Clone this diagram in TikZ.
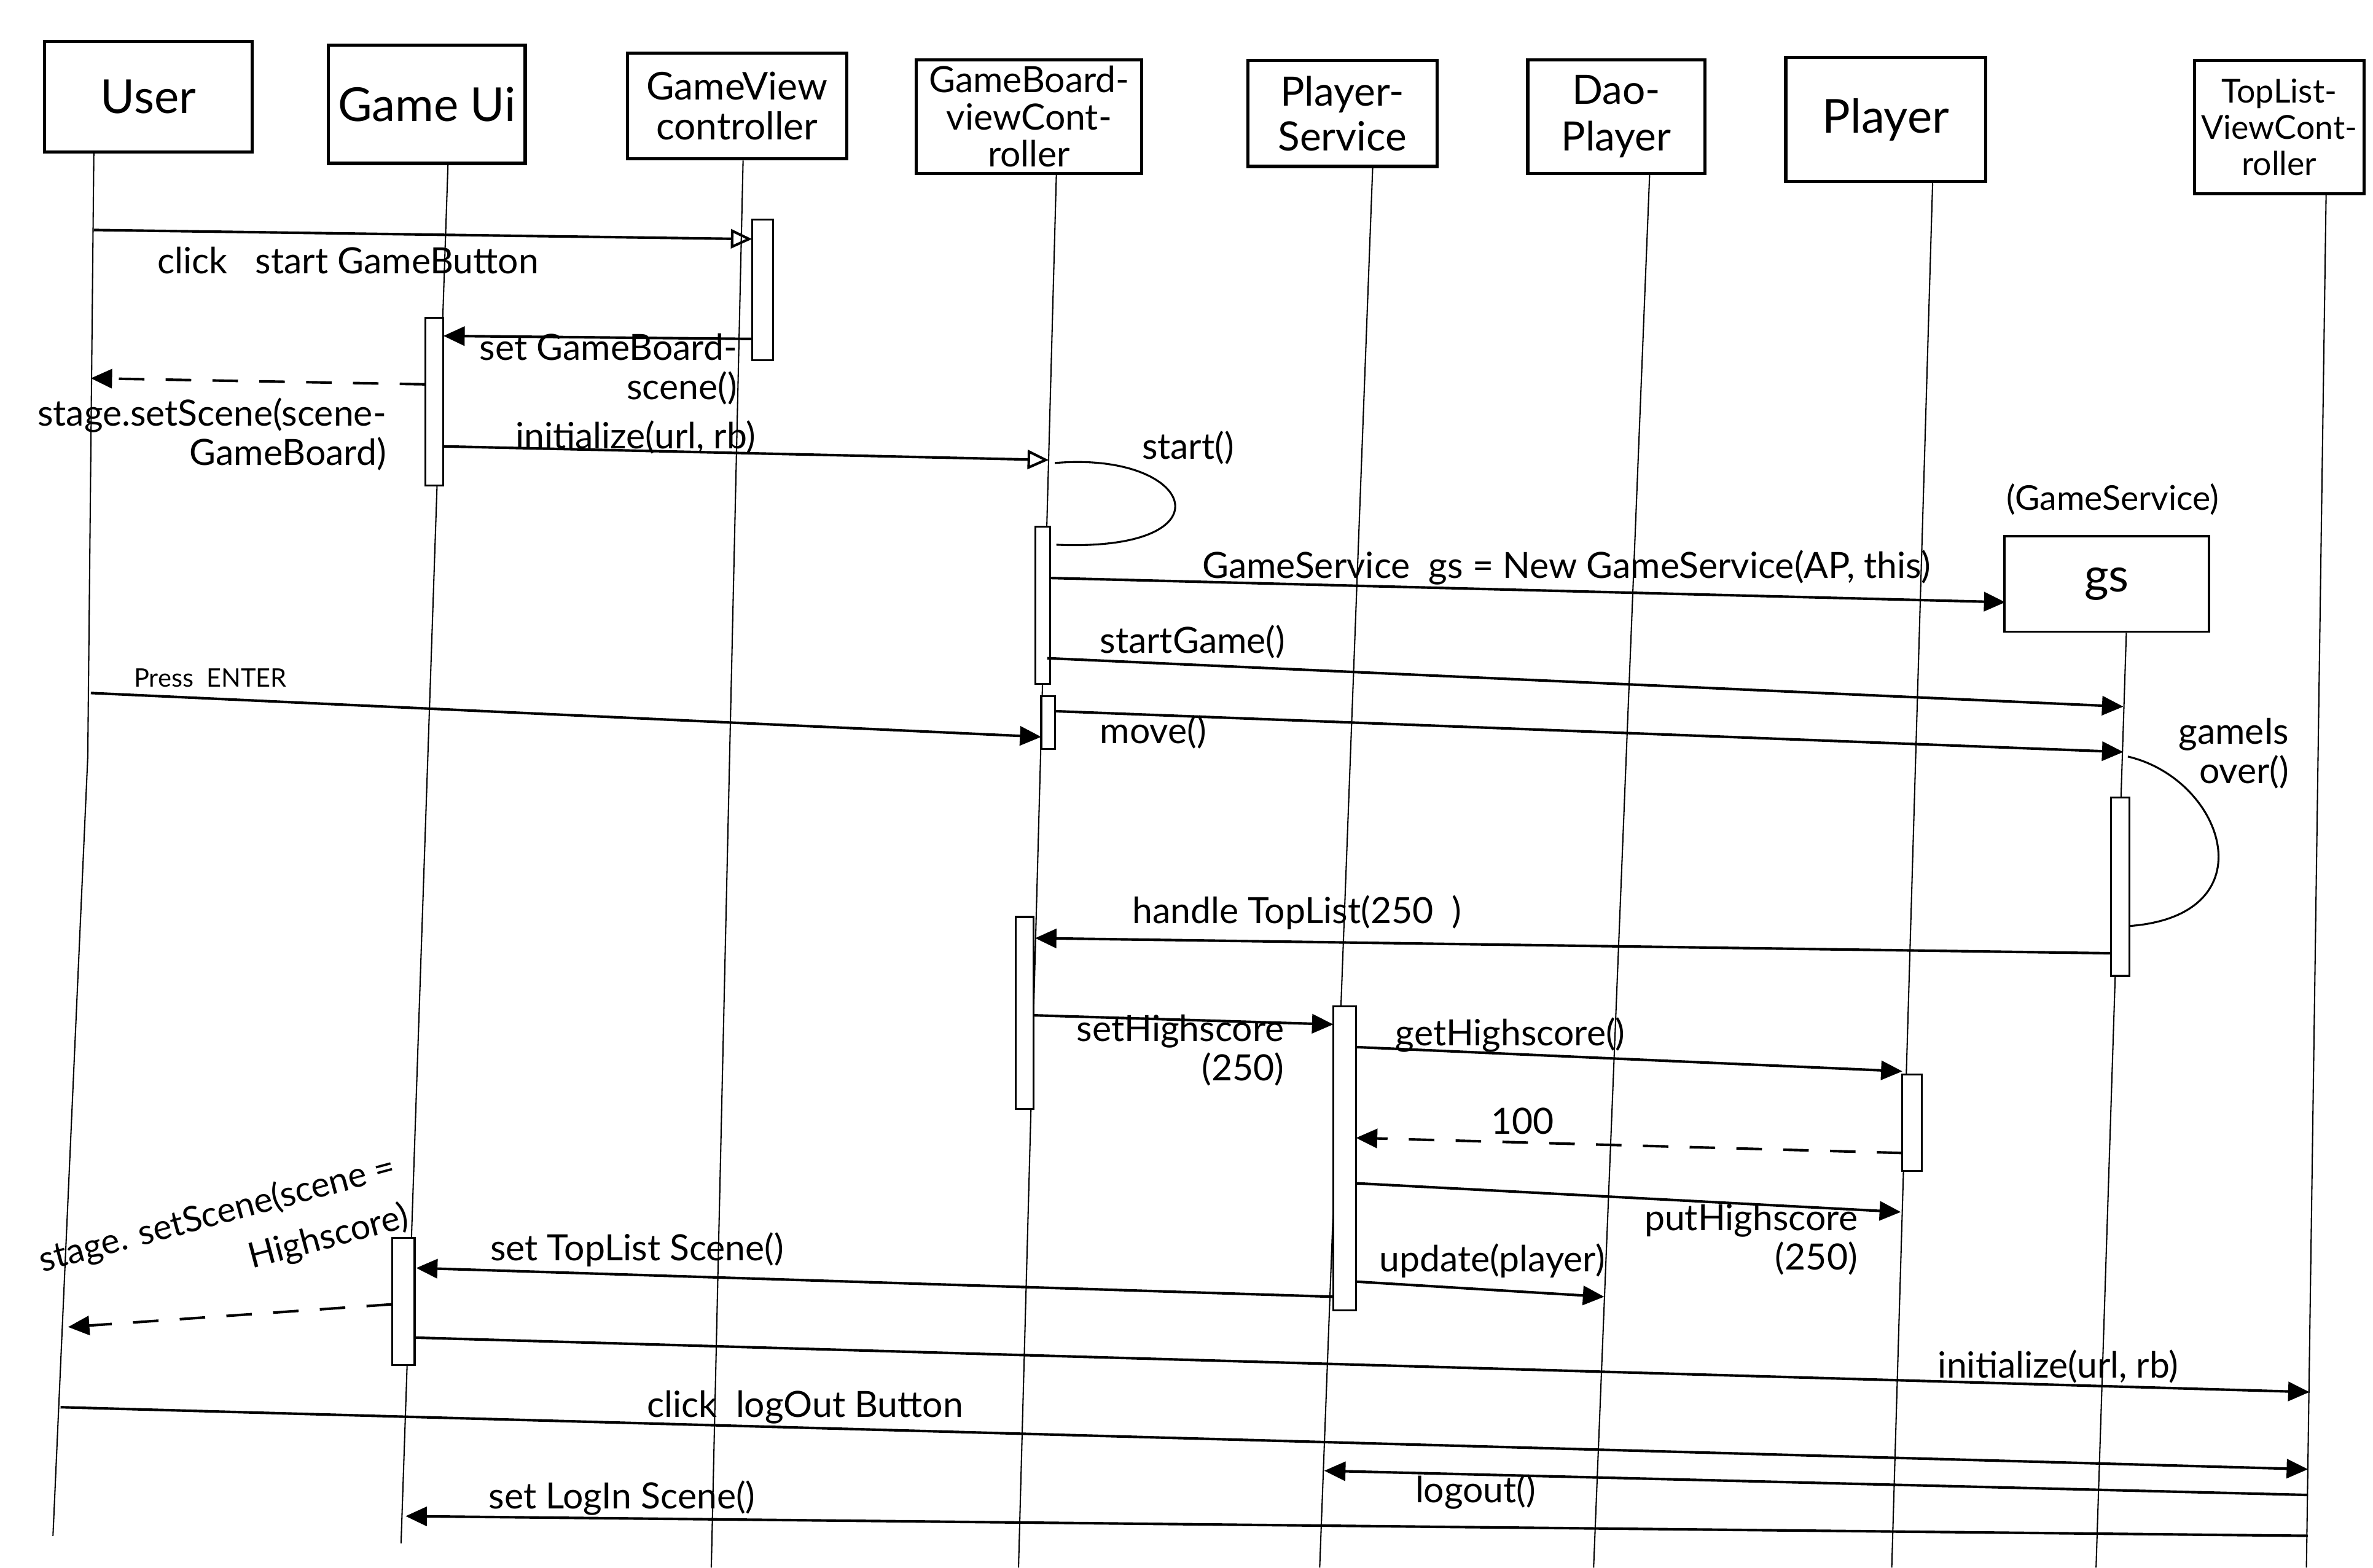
\documentclass[tikz,border=0pt]{standalone}
\usepackage{fontspec}
\setmainfont{Lato}
\usetikzlibrary{arrows.meta,calc}
\begin{document}
\begin{tikzpicture}[x=0.025cm,y=-0.025cm,
  actor/.style={draw,line width=1.5pt,align=center,inner sep=2pt},
  life/.style={line width=0.6pt},
  act/.style={draw,fill=white,line width=0.9pt},
  msg/.style={line width=1.2pt,-{Triangle[length=10pt,width=9pt]}},
  omsg/.style={line width=1.2pt,-{Triangle[open,length=10pt,width=9pt]}},
  rmsg/.style={msg,dash pattern=on 12pt off 10pt},
  selfcall/.style={line width=0.9pt},
  lbl/.style={font=\fontsize{17}{18.5}\selectfont,inner sep=1pt},
  big/.style={font=\fontsize{22}{24}\selectfont},
  mid/.style={font=\fontsize{18}{19}\selectfont}
]
\fill[white] (0,0) rectangle (1568,1036);
\useasboundingbox (0,0) rectangle (1568,1036);

% ---------- participants ----------
\node[actor,big,minimum width=3.425cm,minimum height=1.825cm] (user) at (98,64) {User};
\node[actor,big,minimum width=3.25cm,minimum height=1.95cm] (gameui) at (282,69) {Game Ui};
\node[actor,mid,minimum width=3.625cm,minimum height=1.75cm] (gvc) at (487,70) {GameView\\controller};
\node[actor,font=\fontsize{17}{17.5}\selectfont,minimum width=3.725cm,minimum height=1.875cm] (gbvc) at (680,77) {GameBoard-\\viewCont-\\roller};
\node[actor,font=\fontsize{19}{21}\selectfont,minimum width=3.125cm,minimum height=1.75cm] (ps) at (887,75) {Player-\\Service};
\node[actor,font=\fontsize{19}{22}\selectfont,minimum width=2.925cm,minimum height=1.875cm] (dao) at (1068,77) {Dao-\\Player};
\node[actor,big,minimum width=3.3cm,minimum height=2.05cm] (player) at (1246,79) {Player};
\node[actor,font=\fontsize{15.5}{17}\selectfont,minimum width=2.8cm,minimum height=2.2cm] (toplist) at (1506,84) {TopList-\\ViewCont-\\roller};
\node[actor,line width=1.1pt,big,minimum width=3.375cm,minimum height=1.575cm] (gs) at (1392,386) {gs};
\node[lbl,font=\fontsize{16}{16}\selectfont] (gstype) at (1396,330) {(GameService)};

% ---------- lifelines ----------
\draw[life] ($(user.south)+(-36,0)$) -- (58,500) -- (35,1015);
\draw[life] ($(gameui.south)+(14,0)$) -- (265,1020);
\draw[life] ($(gvc.south)+(4,0)$) -- (470,1036);
\draw[life] ($(gbvc.south)+(18,0)$) -- (673,1036);
\draw[life] ($(ps.south)+(20,0)$) -- (872,1036);
\draw[life] ($(dao.south)+(22,0)$) -- (1053,1036);
\draw[life] ($(player.south)+(31,0)$) -- (1250,1036);
\draw[life] ($(gs.south)+(13,0)$) -- (1385,1036);
\draw[life] ($(toplist.south)+(31,0)$) -- (1524,1036);

% ---------- activations ----------
\draw[act] (497,145) rectangle (511,238);
\draw[act] (281,210) rectangle (293,321);
\draw[act] (684,348) rectangle (694,452);
\draw[act] (688,460) rectangle (697,495);
\draw[act] (671,606) rectangle (683,733);
\draw[act] (1395,527) rectangle (1407,645);
\draw[act] (881,665) rectangle (896,866);
\draw[act] (1257,710) rectangle (1270,774);
\draw[act] (259,818) rectangle (274,902);

% ---------- message end points ----------
\coordinate (a1) at (62,152);   \coordinate (b1) at (497,158);
\coordinate (a2) at (497,224);  \coordinate (b2) at (293,222);
\coordinate (a3) at (281,254);  \coordinate (b3) at (60,250);
\coordinate (a4) at (293,295);  \coordinate (b4) at (693,304);
\coordinate (s1) at (697,306);  \coordinate (s2) at (698,360);
\coordinate (a6) at (694,382);  \coordinate (b6) at (1325,398);
\coordinate (a7) at (692,435);  \coordinate (b7) at (1403,467);
\coordinate (a8) at (60,458);   \coordinate (b8) at (688,487);
\coordinate (a9) at (697,470);  \coordinate (b9) at (1403,497);
\coordinate (g1) at (1406,500); \coordinate (g2) at (1407,612);
\coordinate (a11) at (1395,630); \coordinate (b11) at (684,620);
\coordinate (a12) at (683,671); \coordinate (b12) at (881,677);
\coordinate (a13) at (896,692); \coordinate (b13) at (1257,708);
\coordinate (a14) at (1257,762); \coordinate (b14) at (896,752);
\coordinate (a15) at (896,782); \coordinate (b15) at (1256,801);
\coordinate (a16) at (896,847); \coordinate (b16) at (1060,857);
\coordinate (a17) at (881,857); \coordinate (b17) at (275,838);
\coordinate (a18) at (259,862); \coordinate (b18) at (45,877);
\coordinate (a19) at (274,884); \coordinate (b19) at (1526,920);
\coordinate (a20) at (40,930);  \coordinate (b20) at (1525,971);
\coordinate (a21) at (1525,988); \coordinate (b21) at (875,972);
\coordinate (a22) at (1525,1015); \coordinate (b22) at (268,1002);

% ---------- messages ----------
\draw[omsg] (a1) -- (b1);
\draw[msg]  (a2) -- (b2);
\draw[rmsg] (a3) -- (b3);
\draw[omsg] (a4) -- (b4);
\draw[selfcall] (s1) .. controls (790,298) and (815,365) .. (s2);
\draw[msg]  (a6) -- (b6);
\draw[msg]  (a7) -- (b7);
\draw[msg]  (a8) -- (b8);
\draw[msg]  (a9) -- (b9);
\draw[selfcall] (g1) .. controls (1470,515) and (1500,605) .. (g2);
\draw[msg]  (a11) -- (b11);
\draw[msg]  (a12) -- (b12);
\draw[msg]  (a13) -- (b13);
\draw[rmsg] (a14) -- (b14);
\draw[msg]  (a15) -- (b15);
\draw[msg]  (a16) -- (b16);
\draw[msg]  (a17) -- (b17);
\draw[rmsg] (a18) -- (b18);
\draw[msg]  (a19) -- (b19);
\draw[msg]  (a20) -- (b20);
\draw[msg]  (a21) -- (b21);
\draw[msg]  (a22) -- (b22);

% ---------- labels ----------
\node[lbl] (l1) at (230,172) {click \ \ start GameButton};
\node[lbl,align=right] (l2) at (402,244) {set GameBoard-\\scene()};
\node[lbl,align=right] (l3) at (140,287) {stage.setScene(scene-\\GameBoard)};
\node[lbl] (l4) at (420,289) {initialize(url, rb)};
\node[lbl] (l5) at (785,296) {start()};
\node[lbl] (l6) at (1035,375) {GameService \ gs = New GameService(AP, this)};
\node[lbl] (l7) at (788,424) {startGame()};
\node[lbl,font=\fontsize{12}{12}\selectfont] (l8) at (139,448) {Press \ ENTER};
\node[lbl] (l9) at (762,484) {move()};
\node[lbl,align=right] (l10) at (1476,498) {gameIs\\over()};
\node[lbl] (l11) at (857,603) {handle TopList(250 \ )};
\node[lbl,align=right] (l12) at (780,694) {setHighscore\\(250)};
\node[lbl] (l13) at (998,684) {getHighscore()};
\node[lbl] (l14) at (1006,741) {100};
\node[lbl,align=right] (l15) at (1157,819) {putHighscore\\(250)};
\node[lbl] (l16) at (986,833) {update(player)};
\node[lbl] (l17) at (421,826) {set TopList Scene()};
\node[lbl,rotate=15,align=right,font=\fontsize{16.5}{24}\selectfont] (l18) at (148,819) {stage. setScene(scene =\\Highscore)};
\node[lbl] (l19) at (1360,903) {initialize(url, rb)};
\node[lbl] (l20) at (532,930) {click \ logOut Button};
\node[lbl] (l21) at (975,986) {logout()};
\node[lbl] (l22) at (411,990) {set LogIn Scene()};
\end{tikzpicture}
\end{document}
